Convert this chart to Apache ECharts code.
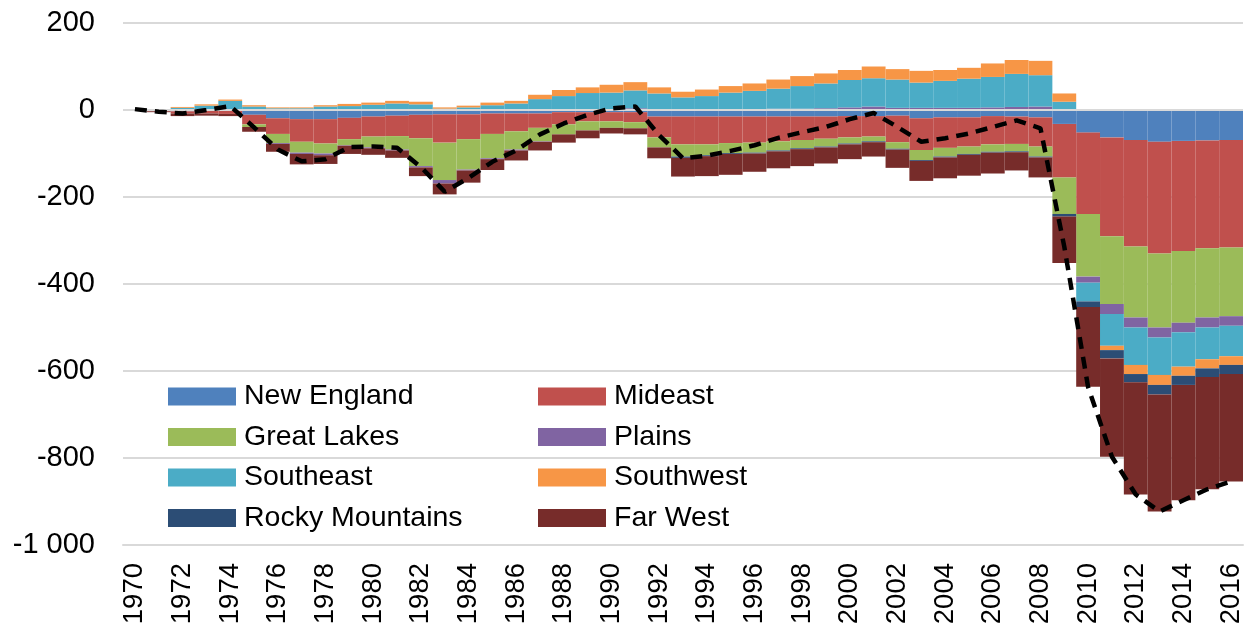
<!DOCTYPE html>
<html>
<head>
<meta charset="utf-8">
<script src="https://cdn.jsdelivr.net/npm/echarts@6/dist/echarts.min.js"></script>
<style>
html,body{margin:0;padding:0;background:#fff;}
#chart{width:1250px;height:631px;}
</style>
</head>
<body>
<div id="chart"></div>
<script>
const years = [];
for (let y = 1970; y <= 2016; y++) years.push(String(y));

const newEngland = [0,0,-3,-2,-2,-11,-19,-21,-21,-18,-15,-13,-11,-10,-10,-8,-8,-8,-5,-5,-5,-5,-15,-15,-15,-15,-15,-15,-15,-15,-14,-14,-13,-19,-17,-17,-14,-15,-17,-32,-52,-63,-69,-73,-71,-70,-69];
const mideast = [0,-3,-5,-6,-7,-22,-36,-52,-56,-49,-46,-47,-54,-65,-57,-47,-41,-33,-28,-21,-21,-23,-48,-64,-64,-61,-60,-57,-54,-51,-49,-47,-61,-73,-70,-67,-65,-63,-67,-123,-187,-227,-245,-257,-253,-248,-247];
const greatLakes = [0,0,0,0,2,-6,-21,-25,-23,-14,-25,-31,-64,-86,-70,-56,-42,-31,-23,-21,-15,-14,-23,-28,-25,-23,-23,-21,-19,-18,-14,-11,-15,-23,-20,-17,-17,-17,-23,-84,-144,-156,-163,-170,-165,-159,-158];
const plains = [0,0,0,0,0,0,-2,-3,-4,-1,-2,-2,-3,-8,-2,-2,-2,-1,2,2,2,4,2,1,1,2,2,3,3,4,6,8,5,5,5,5,6,7,8,2,-14,-23,-23,-23,-22,-23,-22];
const southeast = [1,1,5,10,19,8,4,4,8,9,12,15,13,3,6,11,15,25,30,37,38,41,36,28,31,38,42,46,52,57,63,65,65,58,62,67,70,76,72,17,-43,-73,-86,-86,-79,-73,-70];
const southwest = [1,0,2,3,3,3,2,2,3,5,5,6,6,3,4,6,6,10,14,13,18,19,14,13,15,15,17,21,23,23,23,27,24,27,25,25,31,32,33,19,0,-10,-21,-23,-21,-21,-20];
const rockyMountains = [0,0,0,0,0,0,0,0,0,0,0,0,0,0,0,0,0,0,0,0,0,0,0,-3,-2,-2,-2,-2,-2,-2,-2,-2,-2,-2,-2,-2,-2,-2,-2,-6,-13,-19,-19,-22,-21,-20,-21];
const farWest = [0,-2,-6,-5,-5,-11,-18,-24,-20,-19,-15,-17,-20,-25,-28,-25,-23,-20,-19,-18,-13,-14,-25,-43,-46,-48,-42,-39,-39,-37,-34,-33,-42,-46,-48,-48,-48,-42,-46,-107,-183,-226,-258,-269,-265,-258,-247];
const total = [2,-4,-8,0,9,-40,-91,-118,-113,-85,-84,-87,-131,-188,-156,-119,-93,-56,-31,-11,4,8,-58,-111,-105,-94,-81,-64,-51,-39,-21,-7,-39,-73,-65,-54,-39,-24,-42,-314,-637,-797,-884,-923,-897,-872,-854];

const yTicks = { min: -1000, max: 200, interval: 200 };

const regions = [
  { name: 'New England', data: newEngland, color: '#4F81BD' },
  { name: 'Mideast', data: mideast, color: '#C0504D' },
  { name: 'Great Lakes', data: greatLakes, color: '#9BBB59' },
  { name: 'Plains', data: plains, color: '#8064A2' },
  { name: 'Southeast', data: southeast, color: '#4BACC6' },
  { name: 'Southwest', data: southwest, color: '#F79646' },
  { name: 'Rocky Mountains', data: rockyMountains, color: '#2C4D75' },
  { name: 'Far West', data: farWest, color: '#772C2A' }
];

const FONT = 'Liberation Sans';
const chart = echarts.init(document.getElementById('chart'), null, { renderer: 'canvas' });

const series = regions.map(r => ({
  name: r.name,
  type: 'bar',
  stack: 'all',
  data: r.data,
  barCategoryGap: '0%',
  itemStyle: { color: r.color },
  emphasis: { disabled: true }
}));
series.push({
  name: 'Total',
  type: 'line',
  data: total,
  symbol: 'none',
  z: 10,
  lineStyle: { color: '#000', width: 4.5, type: [12, 8] },
  emphasis: { disabled: true },
  markLine: {
    silent: true,
    symbol: 'none',
    label: { show: false },
    lineStyle: { color: '#d9d9d9', width: 2, type: 'solid' },
    data: [{ yAxis: 0 }]
  }
});

const legendCommon = {
  orient: 'vertical',
  top: 377,
  itemWidth: 68,
  itemHeight: 18,
  itemGap: 11.5,
  icon: 'rect',
  textStyle: { fontFamily: FONT, fontSize: 28.5, color: '#000', padding: [0, 0, 0, 3] },
  selectedMode: false
};

chart.setOption({
  animation: false,
  backgroundColor: '#fff',
  grid: { left: 123, right: 7, top: 23, bottom: 86, containLabel: false },
  legend: [
    Object.assign({}, legendCommon, { left: 163, data: ['New England', 'Great Lakes', 'Southeast', 'Rocky Mountains'] }),
    Object.assign({}, legendCommon, { left: 533, data: ['Mideast', 'Plains', 'Southwest', 'Far West'] })
  ],
  xAxis: {
    type: 'category',
    data: years,
    boundaryGap: true,
    axisLine: { onZero: false, lineStyle: { color: '#d9d9d9', width: 2 } },
    axisTick: { show: false },
    axisLabel: { interval: 1, rotate: 90, fontFamily: FONT, fontSize: 27.5, color: '#000', margin: 18 }
  },
  yAxis: {
    type: 'value',
    min: yTicks.min,
    max: yTicks.max,
    interval: yTicks.interval,
    axisLine: { show: false },
    axisTick: { show: false },
    splitLine: { lineStyle: { color: '#d9d9d9', width: 2 } },
    axisLabel: {
      fontFamily: FONT, fontSize: 29, color: '#000', margin: 28,
      formatter: v => (v < 0 ? '-' : '') + String(Math.abs(v)).replace(/\B(?=(\d{3})+(?!\d))/g, ' ')
    }
  },
  series: series
});
</script>
</body>
</html>
